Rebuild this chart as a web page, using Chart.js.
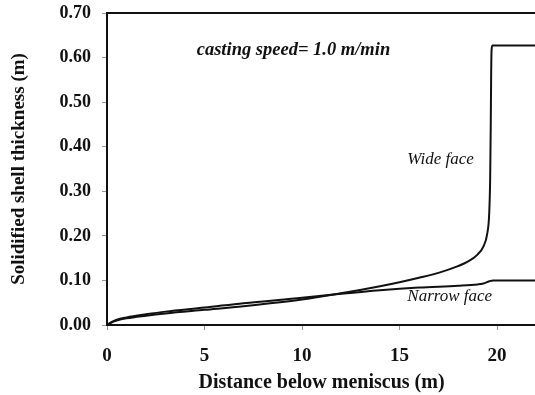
<!DOCTYPE html>
<html>
<head>
<meta charset="utf-8">
<script src="https://cdn.jsdelivr.net/npm/chart.js@4.4.1/dist/chart.umd.min.js"></script>
<style>
  html, body { margin: 0; padding: 0; background: #fff; overflow: hidden; }
  #wrap { width: 545px; height: 395px; position: relative; }
</style>
</head>
<body>
<div id="wrap"><canvas id="c" width="545" height="395"></canvas></div>
<script>
// Distance below meniscus (m)
const wideX   = [0, 0.25, 0.5, 1, 2, 3, 5, 7, 10, 12, 14, 15, 16, 17, 18, 18.5, 19, 19.3, 19.5, 19.6, 19.65, 19.68, 19.7, 19.72, 19.76, 20.5, 22];
// Wide face shell thickness (m)
const wideY   = [0, 0.006, 0.010, 0.015, 0.021, 0.026, 0.034, 0.042, 0.057, 0.071, 0.087, 0.096, 0.106, 0.117, 0.132, 0.142, 0.158, 0.176, 0.205, 0.25, 0.33, 0.45, 0.56, 0.615, 0.627, 0.627, 0.627];
const narrowX = [0, 0.25, 0.5, 1, 2, 3, 5, 7, 10, 12, 14, 16, 18, 19, 19.3, 19.6, 19.8, 20.5, 22];
// Narrow face shell thickness (m)
const narrowY = [0, 0.007, 0.012, 0.017, 0.024, 0.030, 0.039, 0.049, 0.061, 0.070, 0.078, 0.084, 0.088, 0.091, 0.093, 0.098, 0.100, 0.100, 0.100];
const xTicks = [0, 5, 10, 15, 20];
const yTicks = [0, 0.1, 0.2, 0.3, 0.4, 0.5, 0.6, 0.7];
const annotations = [
  { text: 'casting speed= 1.0 m/min', x: 4.6, y: 0.616, font: 'italic bold 18.5px "Liberation Serif"' },
  { text: 'Wide face', x: 15.4, y: 0.371, font: 'italic 17px "Liberation Serif"' },
  { text: 'Narrow face', x: 15.4, y: 0.063, font: 'italic 17px "Liberation Serif"' }
];

const pts = (xs, ys) => xs.map((x, i) => ({ x: x, y: ys[i] }));

const framePlugin = {
  id: 'frame',
  afterDraw(chart) {
    const { ctx, chartArea, scales } = chart;
    ctx.save();
    ctx.strokeStyle = '#111';
    ctx.lineWidth = 2;
    ctx.beginPath();
    ctx.moveTo(chartArea.left - 1, chartArea.top);
    ctx.lineTo(chartArea.right + 5, chartArea.top);
    ctx.stroke();
    ctx.fillStyle = '#111';
    ctx.textBaseline = 'middle';
    ctx.textAlign = 'left';
    annotations.forEach(a => {
      ctx.font = a.font;
      ctx.fillText(a.text, scales.x.getPixelForValue(a.x), scales.y.getPixelForValue(a.y));
    });
    ctx.restore();
  }
};

new Chart(document.getElementById('c'), {
  type: 'line',
  data: {
    datasets: [
      { label: 'Wide face', data: pts(wideX, wideY), borderColor: '#111', borderWidth: 2, pointRadius: 0, cubicInterpolationMode: 'monotone', fill: false },
      { label: 'Narrow face', data: pts(narrowX, narrowY), borderColor: '#111', borderWidth: 2, pointRadius: 0, cubicInterpolationMode: 'monotone', fill: false }
    ]
  },
  options: {
    responsive: false,
    animation: false,
    layout: { padding: { top: 13, right: 9, left: 0, bottom: 0 } },
    plugins: { legend: { display: false }, tooltip: { enabled: false } },
    scales: {
      x: {
        type: 'linear', min: 0, max: 22,
        afterBuildTicks(s) { s.ticks = xTicks.map(v => ({ value: v })); },
        afterFit(s) { s.height = 70; s.paddingLeft = 0; s.paddingRight = 0; },
        grid: { display: true, drawOnChartArea: false, drawTicks: true, tickLength: 5, color: '#999' },
        border: { display: true, color: '#111', width: 2 },
        ticks: { color: '#111', font: { family: 'Liberation Serif', weight: 'bold', size: 19 }, padding: 15, maxRotation: 0 },
        title: { display: true, text: 'Distance below meniscus (m)', color: '#111', font: { family: 'Liberation Serif', weight: 'bold', size: 20, lineHeight: 1.25 }, padding: 0 }
      },
      y: {
        type: 'linear', min: 0, max: 0.7,
        afterBuildTicks(s) { s.ticks = yTicks.map(v => ({ value: v })); },
        afterFit(s) { s.width = 107; s.paddingTop = 0; s.paddingBottom = 0; },
        grid: { display: true, drawOnChartArea: false, drawTicks: true, tickLength: 5, color: '#999' },
        border: { display: true, color: '#111', width: 2 },
        ticks: { color: '#111', font: { family: 'Liberation Serif', weight: 'bold', size: 18 }, padding: 11, callback: v => v.toFixed(2) },
        title: { display: true, text: 'Solidified shell thickness (m)', color: '#111', font: { family: 'Liberation Serif', weight: 'bold', size: 19, lineHeight: 2.0 }, padding: 0 }
      }
    }
  },
  plugins: [framePlugin]
});
</script>
</body>
</html>
